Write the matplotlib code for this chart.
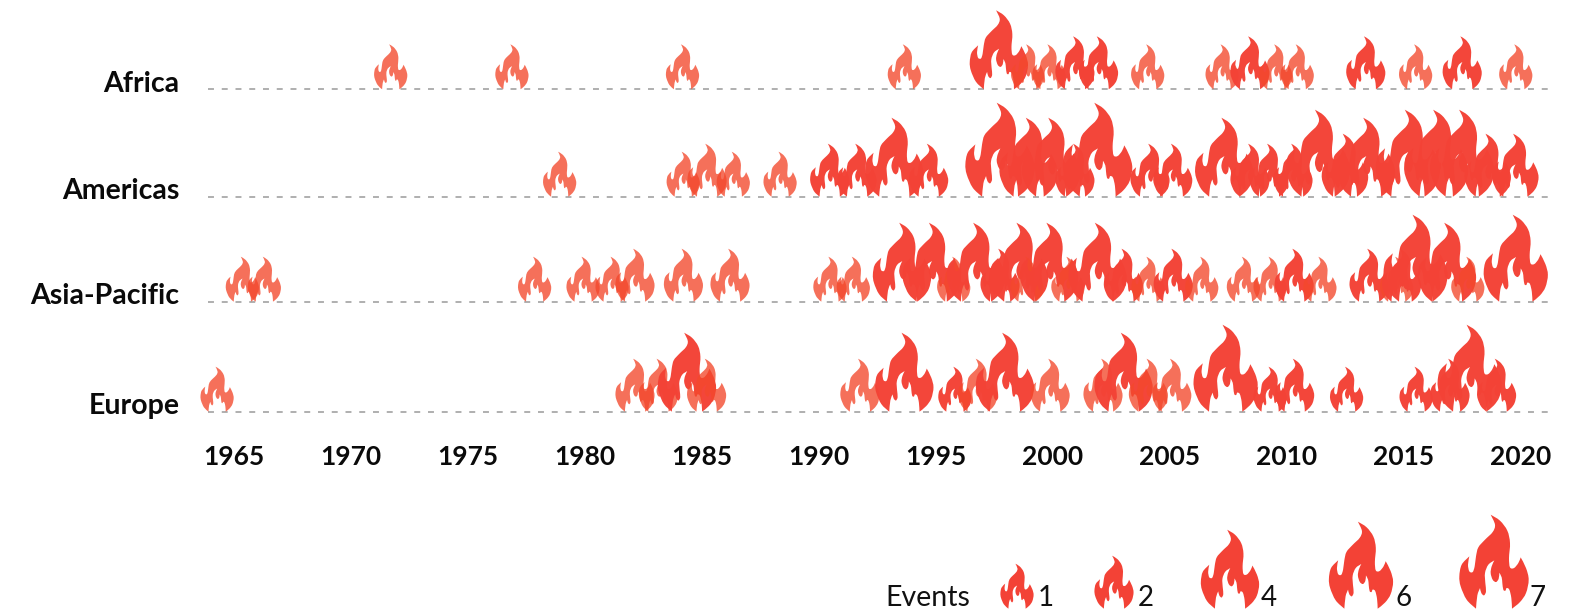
import numpy as np
import matplotlib
matplotlib.use("Agg")
import matplotlib.pyplot as plt
from matplotlib.path import Path
from matplotlib.transforms import ScaledTranslation

plt.rcParams['font.family'] = ['Lato', 'DejaVu Sans']

# ---------- data ----------
regions = ['Africa', 'Americas', 'Asia-Pacific', 'Europe']
tick_years = list(range(1965, 2021, 5))

africa_years = [1971.71, 1976.89, 1984.18, 1993.66, 1997.70, 1998.93, 1999.84, 2000.95, 2001.96, 2004.06,
                2007.24, 2008.43, 2009.53, 2010.45, 2013.38, 2015.51, 2017.50, 2019.79]
africa_events = [1, 1, 1, 1, 4, 1, 1, 2, 2, 1, 1, 2, 1, 1, 2, 1, 2, 1]
africa_light = [1, 1, 1, 1, 0, 1, 1, 0, 0, 1, 1, 0, 1, 1, 0, 1, 0, 1]

americas_years = [1978.93, 1984.21, 1985.23, 1986.35, 1988.35, 1990.47, 1991.64, 1993.23, 1994.70, 1997.75,
                  1998.97, 1999.93, 2000.95, 2001.92, 2004.16, 2005.13, 2007.33, 2008.43, 2009.24, 2010.27,
                  2011.34, 2012.49, 2013.39, 2015.18, 2016.39, 2017.50, 2018.59, 2019.77]
americas_events = [1, 1, 2, 1, 1, 2, 2, 4, 2, 7, 4, 4, 2, 7, 2, 2, 4, 2, 2, 2, 6, 3, 4, 6, 6, 6, 3, 3]
americas_light = [1, 1, 1, 1, 1] + [0] * 23

asia_years = [1965.37, 1966.31, 1977.86, 1979.93, 1981.17, 1982.15, 1984.22, 1986.21, 1990.48, 1991.48,
              1993.56, 1994.83, 1995.77, 1996.72, 1997.75, 1998.57, 1998.90, 1999.85, 2000.65, 2001.92,
              2003.02, 2004.07, 2005.15, 2006.37, 2008.15, 2009.29, 2010.32, 2011.42, 2013.52, 2014.70,
              2014.91, 2015.51, 2016.85, 2017.74, 2019.79]
asia_events = [1, 1, 1, 1, 1, 2, 2, 2, 1, 1, 4, 4, 1, 4, 2, 4, 1, 4, 1, 4, 2, 1, 2, 1, 1, 1, 2, 1, 2, 1, 2, 6, 4, 1, 6]
asia_light = [1, 1, 1, 1, 1, 1, 1, 1, 1, 1, 0, 0, 1, 0, 0, 0, 1, 0, 1, 0, 0, 1, 0, 1, 1, 1, 0, 1, 0, 1, 0, 0, 0, 1, 0]

europe_years = [1964.29, 1982.15, 1983.15, 1984.37, 1985.21, 1991.76, 1993.66, 1995.82, 1996.79, 1997.96,
                1999.89, 2002.15, 2003.03, 2004.09, 2005.09, 2007.39, 2009.29, 2010.34, 2012.56, 2015.53,
                2016.98, 2017.82, 2018.97]
europe_events = [1, 2, 2, 4, 2, 2, 4, 1, 2, 4, 2, 2, 4, 2, 2, 6, 1, 2, 1, 1, 2, 6, 2]
europe_light = [1, 1, 1, 0, 1, 1, 0, 0, 1, 0, 1, 1, 0, 1, 1, 0, 0, 0, 0, 0, 0, 0, 0]

legend_events = [1, 2, 4, 6, 7]

# ---------- style ----------
flame_height = {1: 45, 2: 53, 3: 63, 4: 79, 6: 87, 7: 94}   # px
row_base = {'Africa': 89.3, 'Americas': 196.7, 'Asia-Pacific': 301.7, 'Europe': 411.7}
legend_x = [1017, 1114, 1230, 1361, 1494]
legend_label_x = [1046, 1145.6, 1268.6, 1404, 1538]
RED = (0.953, 0.259, 0.212)
LIGHT = (0.953, 0.282, 0.173)
DPI = 100

# flame outline, corner-to-corner smooth runs
runs = [
    [(122, 20), (150, 38), (172, 68), (180, 105), (177, 150), (180, 178), (192, 180), (205, 165), (212, 148)],
    [(212, 148), (228, 180), (236, 215), (228, 255), (210, 282), (186, 302)],
    [(186, 302), (184, 270), (178, 245), (170, 240), (166, 248), (160, 245), (157, 225), (155, 208), (148, 194)],
    [(148, 194), (146, 212), (138, 222), (128, 215), (122, 195), (125, 175), (133, 157)],
    [(133, 157), (115, 170), (105, 195), (106, 225), (108, 250), (102, 262), (94, 255), (90, 240)],
    [(90, 240), (82, 262), (78, 302)],
    [(78, 302), (50, 275), (32, 235), (28, 205), (35, 170), (58, 145)],
    [(58, 145), (54, 170), (58, 190), (68, 192), (74, 175), (78, 145), (85, 118), (105, 95), (128, 72), (135, 50), (122, 20)],
]


def build_flame():
    verts = [runs[0][0]]
    codes = [Path.MOVETO]
    for run in runs:
        p = np.array(run, float)
        q = np.vstack([p[0], p, p[-1]])
        for i in range(1, len(q) - 2):
            c1 = q[i] + (q[i + 1] - q[i - 1]) / 6
            c2 = q[i + 1] - (q[i + 2] - q[i]) / 6
            verts += [tuple(c1), tuple(c2), tuple(q[i + 1])]
            codes += [Path.CURVE4] * 3
    v = np.array(verts)
    v = np.column_stack([(v[:, 0] - 132) / 282, (302 - v[:, 1]) / 282])
    v[:, 1] = np.minimum(v[:, 1], 1.0)
    return Path(v, codes, closed=False)


flame = build_flame()


def area(ev):
    # Path marker: height 1 is rescaled to 0.5*sqrt(s) points
    return (2 * flame_height[ev] * 72 / DPI) ** 2


fig = plt.figure(figsize=(15.88, 6.12), dpi=DPI, facecolor='white')
W, H = 1588, 612
top, bot = row_base['Africa'], row_base['Europe']
ax = fig.add_axes([208 / W, 1 - bot / H, (1548 - 208) / W, (bot - top) / H])
ax.set_xlim(1965 + (208 - 233.7) / 23.4, 1965 + (1548 - 233.7) / 23.4)
ax.set_ylim(bot, top)
for s in ax.spines.values():
    s.set_visible(False)
ax.patch.set_alpha(0)

for name in regions:
    ax.plot(ax.get_xlim(), [row_base[name]] * 2, color='#9a9a9a', lw=1.1,
            linestyle=(0, (3.9, 5.1)), zorder=1, clip_on=False)

data = [(africa_years, africa_events, africa_light, 'Africa'),
        (americas_years, americas_events, americas_light, 'Americas'),
        (asia_years, asia_events, asia_light, 'Asia-Pacific'),
        (europe_years, europe_events, europe_light, 'Europe')]
for yrs, evs, lights, name in data:
    cols = [LIGHT + (0.78,) if l else RED + (0.98,) for l in lights]
    ax.scatter(yrs, [row_base[name]] * len(yrs), s=[area(e) for e in evs], c=cols,
               marker=flame, linewidths=0, clip_on=False, zorder=2)

ax.set_xticks(tick_years)
ax.set_xticklabels([str(y) for y in tick_years], fontsize=19, fontweight='bold', color='#0a0a0a')
ax.set_yticks([row_base[n] for n in regions])
ax.set_yticklabels(regions, fontsize=20.5, fontweight='bold', color='#0a0a0a')
ax.tick_params(axis='both', length=0)
ax.tick_params(axis='x', pad=23.7)
ax.tick_params(axis='y', pad=20.5)
shift = ScaledTranslation(0, -2.5 / DPI, fig.dpi_scale_trans)
for lab in ax.get_yticklabels():
    lab.set_va('baseline')
    lab.set_transform(lab.get_transform() + shift)

# legend
lax = fig.add_axes([0, 0, 1, 1])
lax.set_xlim(0, W)
lax.set_ylim(H, 0)
lax.axis('off')
lax.scatter(legend_x, [608.7] * len(legend_x), s=[area(e) for e in legend_events], c=[RED],
            marker=flame, linewidths=0, clip_on=False)
lax.text(927.5, 606, 'Events', fontsize=20.5, ha='center', va='baseline', color='#111111')
for x, e in zip(legend_label_x, legend_events):
    lax.text(x, 606, str(e), fontsize=20, ha='center', va='baseline', color='#111111')

fig.savefig('out.png', dpi=DPI)
